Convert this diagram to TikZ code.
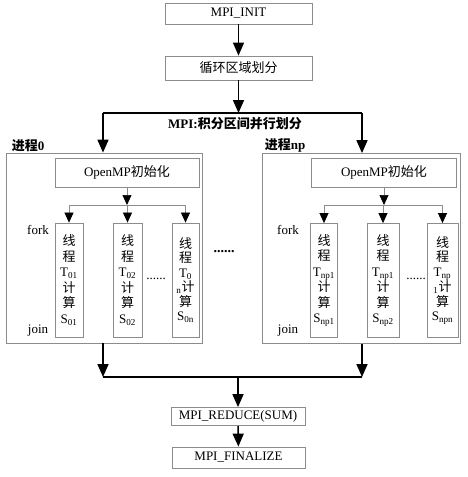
\documentclass[tikz,border=0pt]{standalone}
\usepackage{fontspec}
\setmainfont{Liberation Serif}
\newfontfamily\cjk{Noto Sans CJK SC}
\usetikzlibrary{positioning,arrows.meta,calc}
\definecolor{frame}{HTML}{8C8C8C}
\newcommand{\xc}[1]{{\cjk #1}}
\newcommand{\thr}[2]{\xc{线}\\\xc{程}\\T\textsubscript{#1}\\\xc{计}\\\xc{算}\\S\textsubscript{#2}}

\begin{document}
\begin{tikzpicture}[x=1pt, y=-1pt,
  box/.style={draw=frame, line width=0.8pt, font=\fontsize{13}{15}\selectfont, inner sep=0pt},
  proc/.style={draw=frame, line width=0.8pt, minimum height=190pt, inner sep=0pt},
  thread/.style={draw=frame, line width=0.8pt, align=center, minimum height=114pt, inner sep=0pt, font=\fontsize{13}{15.5}\selectfont},
  tag/.style={font=\fontsize{13}{15}\selectfont, inner sep=0pt},
  flow/.style={line width=1.6pt, -{Triangle[length=13pt,width=11pt]}},
  sub/.style={draw=frame, line width=0.7pt, -{Triangle[length=10pt,width=9pt,color=black,fill=black]}}]
\useasboundingbox (0,0) rectangle (467,477);

% main flow, top
\node[box, minimum width=147pt, minimum height=21pt] (init) at (238.5,13.5) {MPI\_INIT};
\node[box, minimum width=147pt, minimum height=24pt] (loop) at (238.5,68) {\xc{循环区域划分}};
\coordinate (busL) at (103,113);
\coordinate (busR) at (362,113);
\draw[flow] (init) -- (loop);
\draw[flow] (loop) -- (loop.south |- busL);
\draw[line width=1.6pt] (busL) -- (busR);
\node[tag, font=\fontsize{13}{15}\selectfont\bfseries] (split) at (235,124) {MPI:{\cjk\bfseries 积分区间并行划分}};

% processes
\node[proc, minimum width=196pt] (proc0) at (104,248) {};
\node[proc, minimum width=198pt] (procnp) at (361,248.5) {};
\node[tag, above right=1pt and 6pt of proc0.north west] (lab0) {{\cjk\bfseries 进程}\textbf{0}};
\node[tag, above right=1pt and 3pt of procnp.north west] (labnp) {{\cjk\bfseries 进程}\textbf{np}};
\draw[flow] (busL) -- (busL |- proc0.north);
\draw[flow] (busR) -- (busR |- procnp.north);
\node[font=\fontsize{14}{14}\selectfont\bfseries] (gap) at (224,252) {......};

% process 0
\node[box, minimum width=144pt, minimum height=29pt] (omp0) at (127,172.5) {OpenMP\xc{初始化}};
\node[thread, minimum width=28pt] (t01) at (69,280) {\thr{01}{01}};
\node[thread, minimum width=29pt] (t02) at (127.5,280) {\thr{02}{02}};
\node[thread, minimum width=27pt, font=\fontsize{13}{14.5}\selectfont] (t0n) at (185.5,280) {\xc{线}\\\xc{程}\\T\textsubscript{0}\\\textsubscript{n}\xc{计}\\\xc{算}\\S\textsubscript{0n}};
\node[tag] (fork0) at (38,230) {fork};
\node[tag] (join0) at (38,331) {join};
\node[tag] (dots0) at (156,279) {......};
\coordinate (fk0) at (127,205);
\draw[sub] (omp0) -- (fk0);
\draw[draw=frame, line width=0.7pt] (t01.north |- fk0) -- (t0n.north |- fk0);
\foreach \t in {t01,t02,t0n} \draw[sub] (\t.north |- fk0) -- (\t.north);

% process np
\node[box, minimum width=145pt, minimum height=29pt] (ompnp) at (384,172.5) {OpenMP\xc{初始化}};
\node[thread, minimum width=27pt] (tn1) at (324,280.5) {\thr{np1}{np1}};
\node[thread, minimum width=32pt] (tn2) at (383,280.5) {\thr{np1}{np2}};
\node[thread, minimum width=31pt, font=\fontsize{13}{14.5}\selectfont] (tnn) at (442.5,280.5) {\xc{线}\\\xc{程}\\T\textsubscript{np}\\\textsubscript{1}\xc{计}\\\xc{算}\\S\textsubscript{npn}};
\node[tag] (forknp) at (288,230) {fork};
\node[tag] (joinnp) at (288,331) {join};
\node[tag] (dotsnp) at (416,279) {......};
\coordinate (fknp) at (384,205);
\draw[sub] (ompnp) -- (fknp);
\draw[draw=frame, line width=0.7pt] (tn1.north |- fknp) -- (tnn.north |- fknp);
\foreach \t in {tn1,tn2,tnn} \draw[sub] (\t.north |- fknp) -- (\t.north);

% main flow, bottom
\coordinate (redL) at (103,377);
\coordinate (redR) at (362,377);
\node[box, minimum width=134pt, minimum height=18pt] (reduce) at (238,416.5) {MPI\_REDUCE(SUM)};
\node[box, minimum width=133pt, minimum height=21pt] (final) at (238.5,457.5) {MPI\_FINALIZE};
\draw[flow] (redL |- proc0.south) -- (redL);
\draw[flow] (redR |- procnp.south) -- (redR);
\draw[line width=1.6pt] (redL) -- (redR);
\draw[flow] (reduce.north |- redL) -- (reduce);
\draw[flow] (reduce) -- (final);
\end{tikzpicture}
\end{document}
